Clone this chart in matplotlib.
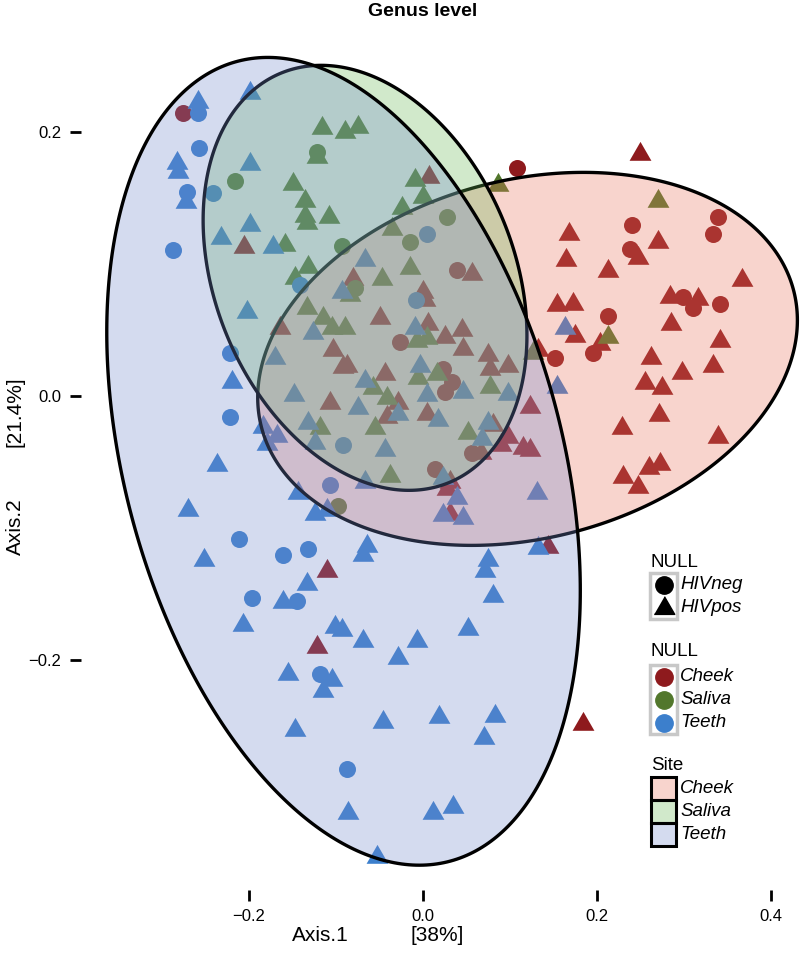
import numpy as np
import matplotlib
matplotlib.use("Agg")
import matplotlib.pyplot as plt
from matplotlib.patches import Polygon, Rectangle
from matplotlib.lines import Line2D

plt.rcParams['font.family'] = ['Liberation Sans', 'DejaVu Sans']

W, H = 800, 971

# ---------------- data (PCoA coordinates) ----------------
sites = ["Cheek", "Saliva", "Teeth"]
status = ["HIVneg", "HIVpos"]

cheek_neg_x = [-0.276, 0.108, 0.039, 0.339, 0.333, 0.240, 0.238, 0.299, 0.310, 0.341,
               0.213, 0.195, 0.152, -0.026, 0.023, 0.033, 0.025, 0.056, 0.014]
cheek_neg_y = [0.215, 0.173, 0.096, 0.136, 0.123, 0.130, 0.112, 0.075, 0.067, 0.070,
               0.061, 0.033, 0.029, 0.041, 0.021, 0.011, 0.003, -0.043, -0.055]
cheek_pos_x = [0.007, -0.080, 0.056, 0.000, 0.249, 0.168, 0.270, 0.247, 0.164, 0.213,
               0.366, 0.154, 0.172, 0.284, 0.316, 0.175, 0.203, 0.132, 0.285, 0.341,
               0.262, 0.298, 0.333, 0.255, 0.275, 0.271, 0.228, 0.339, 0.259, 0.272,
               0.230, 0.247, 0.123, 0.123, -0.206, -0.164, -0.103, -0.092, -0.107, 0.002,
               -0.049, 0.006, 0.025, 0.045, 0.046, 0.074, 0.097, 0.077, -0.087, -0.044,
               -0.029, -0.041, 0.005, 0.080, 0.097, 0.115, 0.089, 0.031, 0.066, 0.028,
               0.031, 0.144, -0.110, -0.122, 0.184]
cheek_pos_y = [0.166, 0.089, 0.093, 0.079, 0.184, 0.123, 0.117, 0.105, 0.103, 0.095,
               0.088, 0.069, 0.070, 0.075, 0.074, 0.046, 0.040, 0.035, 0.055, 0.042,
               0.029, 0.018, 0.023, 0.010, 0.006, -0.014, -0.024, -0.031, -0.054, -0.051,
               -0.061, -0.069, -0.008, -0.041, 0.113, 0.052, 0.035, 0.022, -0.005, 0.073,
               0.059, 0.055, 0.045, 0.050, 0.036, 0.031, 0.023, 0.021, 0.023, 0.017,
               -0.005, -0.016, -0.013, -0.022, -0.031, -0.039, -0.037, -0.065, -0.043, -0.070,
               -0.089, -0.114, -0.132, -0.190, -0.248]

saliva_neg_x = [-0.216, -0.122, -0.093, 0.028, -0.015, -0.078, -0.098]
saliva_neg_y = [0.163, 0.185, 0.114, 0.136, 0.117, 0.082, -0.083]
saliva_pos_x = [-0.116, -0.090, -0.075, -0.122, -0.149, -0.136, -0.136, -0.133, -0.108, -0.159,
                -0.147, -0.132, -0.009, 0.000, -0.024, -0.036, -0.015, -0.047, 0.086, 0.270,
                0.213, 0.126, -0.133, -0.115, -0.105, -0.118, -0.007, 0.005, -0.006, 0.016,
                0.077, -0.057, -0.041, -0.055, 0.052, -0.038, -0.090, -0.084]
saliva_pos_y = [0.203, 0.200, 0.204, 0.181, 0.161, 0.148, 0.137, 0.131, 0.136, 0.115,
                0.090, 0.098, 0.164, 0.151, 0.143, 0.127, 0.097, 0.089, 0.160, 0.148,
                0.045, 0.033, 0.067, 0.059, 0.052, -0.024, 0.042, 0.044, 0.014, 0.017,
                0.007, 0.006, -0.001, -0.024, -0.028, -0.060, 0.052, 0.077]

teeth_neg_x = [-0.259, -0.257, -0.271, -0.241, -0.287, -0.141, 0.005, -0.222, -0.222, -0.092,
               -0.008, -0.107, -0.211, -0.161, -0.132, -0.197, -0.145, -0.118, -0.087]
teeth_neg_y = [0.215, 0.188, 0.155, 0.154, 0.111, 0.084, 0.123, 0.033, -0.016, -0.037,
               0.073, -0.067, -0.108, -0.120, -0.116, -0.153, -0.155, -0.210, -0.282]
teeth_pos_x = [-0.259, -0.199, -0.283, -0.282, -0.272, -0.199, -0.232, -0.199, -0.172, -0.067,
               -0.202, -0.220, -0.237, -0.170, -0.148, -0.126, -0.132, -0.124, -0.184, -0.179,
               -0.168, -0.144, -0.093, -0.009, -0.003, 0.046, 0.097, -0.067, 0.005, -0.075,
               -0.029, 0.017, -0.044, 0.074, 0.068, 0.023, -0.067, 0.163, 0.154, 0.131,
               -0.270, -0.252, -0.133, -0.161, -0.207, -0.101, -0.155, -0.105, -0.115, -0.124,
               -0.110, -0.064, -0.069, 0.039, 0.023, 0.046, 0.132, 0.074, 0.071, 0.080,
               0.052, -0.069, -0.007, -0.029, -0.093, -0.147, -0.086, -0.046, 0.018, 0.083,
               0.070, 0.011, 0.034, -0.053]
teeth_pos_y = [0.223, 0.230, 0.177, 0.170, 0.147, 0.176, 0.120, 0.130, 0.113, 0.103,
               0.064, 0.011, -0.052, 0.029, 0.001, 0.048, -0.020, -0.035, -0.023, -0.036,
               -0.030, -0.073, 0.079, 0.052, 0.023, 0.003, 0.002, 0.012, 0.001, -0.009,
               -0.013, -0.018, -0.041, -0.020, -0.032, -0.062, -0.065, 0.052, 0.007, -0.073,
               -0.086, -0.124, -0.142, -0.156, -0.173, -0.175, -0.210, -0.215, -0.223, -0.089,
               -0.086, -0.113, -0.120, -0.077, -0.090, -0.092, -0.115, -0.124, -0.132, -0.151,
               -0.176, -0.185, -0.185, -0.198, -0.177, -0.253, -0.316, -0.247, -0.243, -0.242,
               -0.259, -0.316, -0.311, -0.349]

# ellipse summary per site: centre, x half-range, y half-range, correlation
ell_cx = [0.120, -0.0667, -0.0914]
ell_cy = [0.0284, 0.0898, -0.0492]
ell_sx = [0.310, 0.186, 0.272]
ell_sy = [0.1413, 0.161, 0.306]
ell_r = [0.207, -0.271, -0.320]

x_ticks = [-0.2, 0.0, 0.2, 0.4]
y_ticks = [-0.2, 0.0, 0.2]
x_ticklabels = ["\u22120.2", "0.0", "0.2", "0.4"]
y_ticklabels = ["\u22120.2", "0.0", "0.2"]

# ---------------- style ----------------
point_col = {"Cheek": "#8E1A1D", "Saliva": "#52772C", "Teeth": "#3C7FCC"}
fill_col = {"Cheek": (235/255, 115/255, 92/255),
            "Saliva": (105/255, 185/255, 85/255),
            "Teeth": (115/255, 138/255, 205/255)}
tri = [(-1.0, -0.577), (1.0, -0.577), (0.0, 1.155)]

fig = plt.figure(figsize=(W/100, H/100), dpi=100)
ax = fig.add_axes([81/W, 1-890/H, 719/W, 850/H])
ax.set_xlim(-0.393, 0.433)
ax.set_ylim(-0.374, 0.270)

pts = {
    "Cheek": ((cheek_neg_x, cheek_neg_y), (cheek_pos_x, cheek_pos_y)),
    "Saliva": ((saliva_neg_x, saliva_neg_y), (saliva_pos_x, saliva_pos_y)),
    "Teeth": ((teeth_neg_x, teeth_neg_y), (teeth_pos_x, teeth_pos_y)),
}
for s in sites:
    (nx, ny), (px, py) = pts[s]
    ax.scatter(nx, ny, s=150, marker='o', color=point_col[s], linewidths=0, zorder=2)
    ax.scatter(px, py, s=330, marker=tri, color=point_col[s], linewidths=0, zorder=2)

t = np.linspace(0, 2*np.pi, 400)
for i, s in enumerate(sites):
    r = ell_r[i]
    ex = ell_cx[i] + ell_sx[i]*np.cos(t)
    ey = ell_cy[i] + ell_sy[i]*(r*np.cos(t) + np.sqrt(1-r*r)*np.sin(t))
    ax.add_patch(Polygon(np.column_stack([ex, ey]), closed=True,
                         facecolor=fill_col[s] + (0.3,), edgecolor='black',
                         linewidth=2.4, zorder=3 + i))

for sp in ax.spines.values():
    sp.set_visible(False)
ax.set_xticks(x_ticks)
ax.set_xticklabels(x_ticklabels)
ax.set_yticks(y_ticks)
ax.set_yticklabels(y_ticklabels)
ax.tick_params(direction='out', length=8, width=2, color='black',
               labelsize=12, labelcolor='black', pad=6)

fig.text(423/W, 1-12/H, "Genus level", ha='center', va='center',
         fontsize=14, fontweight='bold')
fig.text(320/W, 1-935/H, "Axis.1", ha='center', va='center', fontsize=15)
fig.text(437/W, 1-935/H, "[38%]", ha='center', va='center', fontsize=15)
fig.text(15/W, 1-527/H, "Axis.2", ha='center', va='center', fontsize=15, rotation=90)
fig.text(15/W, 1-412/H, "[21.4%]", ha='center', va='center', fontsize=15, rotation=90)

# ---------------- legends ----------------
def F(px, py):
    return (px/W, 1-py/H)

def key_text(px, py, s, italic=True):
    fig.text(*F(px, py), s, ha='left', va='center', fontsize=13.5,
             style='italic' if italic else 'normal')

lx = 650
kw = 27
kh = 23
# legend 1 : shape
fig.text(*F(lx+1, 562), "NULL", ha='left', va='center', fontsize=13.5)
y0 = 573
fig.add_artist(Rectangle(F(lx, y0+2*kh), kw/W, 2*kh/H, transform=fig.transFigure,
                         facecolor='white', edgecolor='#c8c8c8', linewidth=2.5))
for k, (lab, m) in enumerate([("HIVneg", 'o'), ("HIVpos", tri)]):
    cy = y0 + kh*k + kh/2
    fig.add_artist(Line2D([F(lx+kw/2, cy)[0]], [F(lx+kw/2, cy)[1]], marker=m,
                          markersize=12.5 if m == 'o' else 17, color='black',
                          linestyle='none', transform=fig.transFigure))
    key_text(lx+kw+3, cy, lab)

# legend 2 : colour
fig.text(*F(lx+1, 652), "NULL", ha='left', va='center', fontsize=13.5)
y0 = 665
fig.add_artist(Rectangle(F(lx, y0+3*kh), kw/W, 3*kh/H, transform=fig.transFigure,
                         facecolor='white', edgecolor='#c8c8c8', linewidth=2.5))
for k, s in enumerate(sites):
    cy = y0 + kh*k + kh/2
    fig.add_artist(Line2D([F(lx+kw/2, cy)[0]], [F(lx+kw/2, cy)[1]], marker='o',
                          markersize=12.5, color=point_col[s], linestyle='none',
                          transform=fig.transFigure))
    key_text(lx+kw+3, cy, s)

# legend 3 : fill
fig.text(*F(lx+1, 765), "Site", ha='left', va='center', fontsize=13.5)
y0 = 777
for k, s in enumerate(sites):
    top = y0 + kh*k
    fig.add_artist(Rectangle(F(lx+1, top+kh), (kw-2)/W, kh/H, transform=fig.transFigure,
                             facecolor=fill_col[s] + (0.3,), edgecolor='black',
                             linewidth=2.2))
    key_text(lx+kw+3, top+kh/2, s)

fig.savefig("out.png", dpi=100)
